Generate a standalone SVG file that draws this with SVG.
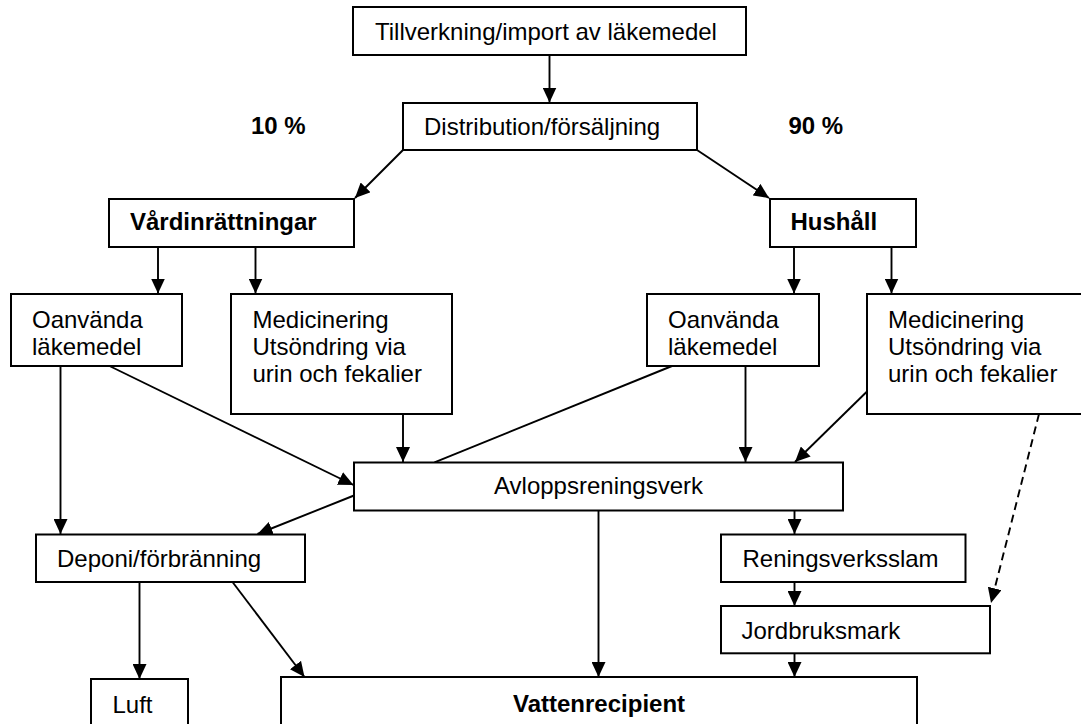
<svg xmlns="http://www.w3.org/2000/svg" width="1081" height="724" viewBox="0 0 1081 724">
<style>
.box{fill:#fff;stroke:#000;stroke-width:2}
.t{font-family:"Liberation Sans",Arial,sans-serif;font-size:24px;fill:#000}
.b{font-weight:bold}
.ln{stroke:#000;stroke-width:1.9;fill:none}
.arr{marker-end:url(#ah)}
.dash{stroke-dasharray:8,5}
</style>
<defs>
<marker id="ah" markerUnits="userSpaceOnUse" viewBox="0 0 15 14" refX="15" refY="7" markerWidth="15" markerHeight="14" orient="auto">
<path d="M0,0 L15,7 L0,14 z" fill="#000"/>
</marker>
</defs>
<rect width="1081" height="724" fill="#fff"/>
<g id="connectors">
<line class="ln arr" x1="549.5" y1="55" x2="549.5" y2="102.5"/>
<line class="ln arr" x1="403" y1="150" x2="355" y2="198"/>
<line class="ln arr" x1="697" y1="150" x2="769" y2="198"/>
<line class="ln arr" x1="158" y1="247" x2="158" y2="293.5"/>
<line class="ln arr" x1="255.5" y1="247" x2="255.5" y2="293.5"/>
<line class="ln arr" x1="794" y1="247" x2="794" y2="293.5"/>
<line class="ln arr" x1="891.5" y1="247" x2="891.5" y2="293.5"/>
<line class="ln arr" x1="403" y1="414" x2="403" y2="462"/>
<line class="ln arr" x1="109.5" y1="366" x2="353.5" y2="485"/>
<line class="ln" x1="672" y1="366" x2="434.5" y2="462.3"/>
<line class="ln arr" x1="745.5" y1="366" x2="745.5" y2="462"/>
<line class="ln arr" x1="867" y1="391.5" x2="795" y2="462"/>
<line class="ln arr" x1="354" y1="495.5" x2="257.5" y2="534"/>
<line class="ln arr" x1="60.5" y1="366" x2="60.5" y2="534"/>
<line class="ln arr" x1="598.5" y1="510.7" x2="598.5" y2="677"/>
<line class="ln arr" x1="794.5" y1="510.7" x2="794.5" y2="534"/>
<line class="ln arr" x1="794.5" y1="582" x2="794.5" y2="606"/>
<line class="ln arr dash" x1="1039" y1="414" x2="991" y2="603"/>
<line class="ln arr" x1="794.5" y1="653.3" x2="794.5" y2="677"/>
<line class="ln arr" x1="139.5" y1="582" x2="139.5" y2="679"/>
<line class="ln arr" x1="232.5" y1="582" x2="304.5" y2="677"/>
</g>
<g id="tillverkning"><rect class="box" x="353" y="7" width="393" height="48"/><text class="t" x="375" y="40">Tillverkning/import av läkemedel</text></g>
<g id="distribution"><rect class="box" x="403" y="103" width="294" height="47"/><text class="t" x="424" y="135">Distribution/försäljning</text></g>
<g id="pct10"><text class="t b" x="251" y="134">10 %</text></g>
<g id="pct90"><text class="t b" x="788.5" y="134">90 %</text></g>
<g id="vard"><rect class="box" x="109" y="199" width="245" height="48"/><text class="t b" x="130" y="230">Vårdinrättningar</text></g>
<g id="hushall"><rect class="box" x="770" y="199" width="146" height="48"/><text class="t b" x="790.5" y="230">Hushåll</text></g>
<g id="oanv1"><rect class="box" x="11" y="294" width="171" height="72"/><text class="t" x="32" y="328">Oanvända</text><text class="t" x="32" y="354.5">läkemedel</text></g>
<g id="med1"><rect class="box" x="231" y="294" width="221" height="120"/><text class="t" x="252.5" y="328">Medicinering</text><text class="t" x="252.5" y="354.5">Utsöndring via</text><text class="t" x="252.5" y="381.5">urin och fekalier</text></g>
<g id="oanv2"><rect class="box" x="647" y="294" width="172" height="72"/><text class="t" x="668" y="328">Oanvända</text><text class="t" x="668" y="354.5">läkemedel</text></g>
<g id="med2"><rect class="box" x="867" y="294" width="230" height="120"/><text class="t" x="888" y="328">Medicinering</text><text class="t" x="888" y="354.5">Utsöndring via</text><text class="t" x="888" y="381.5">urin och fekalier</text></g>
<g id="avlopp"><rect class="box" x="354" y="462.5" width="489" height="48"/><text class="t" x="494" y="494">Avloppsreningsverk</text></g>
<g id="deponi"><rect class="box" x="36" y="534.5" width="269" height="47.5"/><text class="t" x="57" y="566.5">Deponi/förbränning</text></g>
<g id="slam"><rect class="box" x="721" y="534.5" width="244.5" height="47.5"/><text class="t" x="742.5" y="566.5">Reningsverksslam</text></g>
<g id="jord"><rect class="box" x="721" y="606" width="269" height="47.3"/><text class="t" x="741.5" y="638.5">Jordbruksmark</text></g>
<g id="luft"><rect class="box" x="91" y="679" width="97" height="60"/><text class="t" x="112.5" y="713">Luft</text></g>
<g id="vatten"><rect class="box" x="281" y="677" width="636" height="60"/><text class="t b" x="513" y="712">Vattenrecipient</text></g>
</svg>
